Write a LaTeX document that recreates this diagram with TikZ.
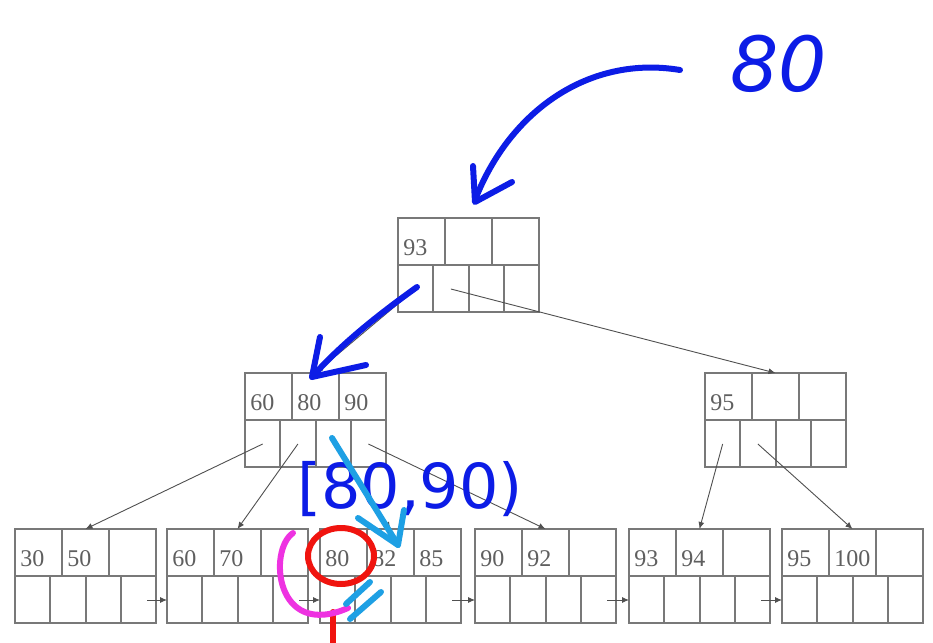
\documentclass[tikz,border=0pt]{standalone}
\usepackage{fontspec}
\setmainfont{Liberation Serif}
\newfontfamily\inkfont{DejaVu Sans}
\usetikzlibrary{arrows.meta}
\definecolor{boxgray}{RGB}{120,120,120}
\definecolor{keygray}{RGB}{95,95,95}
\definecolor{ptrgray}{RGB}{80,80,80}
\definecolor{inkblue}{RGB}{12,28,230}
\definecolor{inkcyan}{RGB}{30,160,228}
\definecolor{inkred}{RGB}{240,20,15}
\definecolor{inkpink}{RGB}{238,50,225}
\begin{document}
\begin{tikzpicture}[x=0.5pt,y=-0.5pt]
\tikzstyle{every node}+=[inner sep=0pt]
\tikzstyle{box}=[draw=boxgray,line width=0.85pt]
\tikzstyle{key}=[anchor=base west,text=keygray,font=\fontsize{12}{12}\selectfont]
\tikzstyle{ptr}=[draw=ptrgray,line width=0.45pt,-{Latex[length=3.5pt,width=3pt]}]
\tikzstyle{ink}=[line width=3pt,line cap=round,line join=round]
\useasboundingbox (0,0) rectangle (933,643);
\fill [white] (0,0) rectangle (933,643);
\foreach \n/\x/\y in {root/398/218,ina/245/373,inb/705/373,la/15/529,lb/167/529,lc/320/529,ld/475/529,le/629/529,lf/782/529}
{
  \draw [box] (\x,\y) rectangle (\x+141,\y+94);
  \draw [box] (\x,\y+47) -- (\x+141,\y+47);
  \draw [box] (\x+47,\y) -- (\x+47,\y+47);
  \draw [box] (\x+94,\y) -- (\x+94,\y+47);
  \foreach \d in {35,71,106} \draw [box] (\x+\d,\y+47) -- (\x+\d,\y+94);
  \coordinate (\n-top) at (\x+70.5,\y);
  \coordinate (\n-in) at (\x,\y+71);
  \coordinate (\n-out) at (\x+132,\y+71);
  \foreach \i in {1,...,4} \coordinate (\n-p\i) at (\x+35.25*\i-17.6,\y+71);
  \foreach \i in {1,2,3} \coordinate (\n-k\i) at (\x+47*\i-42,\y+37);
}
\foreach \n/\i/\v in {root/1/93,ina/1/60,ina/2/80,ina/3/90,inb/1/95,la/1/30,la/2/50,lb/1/60,lb/2/70,lc/1/80,lc/2/82,lc/3/85,ld/1/90,ld/2/92,le/1/93,le/2/94,lf/1/95,lf/2/100}
  \node [key] (\n-t\i) at (\n-k\i) {\v};
\draw [ptr] (root-p1) -- (ina-top);
\draw [ptr] (root-p2) -- (inb-top);
\draw [ptr] (ina-p1) -- (la-top);
\draw [ptr] (ina-p2) -- (lb-top);
\draw [ptr] (ina-p3) -- (lc-top);
\draw [ptr] (ina-p4) -- (ld-top);
\draw [ptr] (inb-p1) -- (le-top);
\draw [ptr] (inb-p2) -- (lf-top);
\draw [ptr] (la-out) -- (lb-in);
\draw [ptr] (lb-out) -- (lc-in);
\draw [ptr] (lc-out) -- (ld-in);
\draw [ptr] (ld-out) -- (le-in);
\draw [ptr] (le-out) -- (lf-in);
\node [text=inkblue,font=\inkfont\itshape\fontsize{38}{38}\selectfont] (query) at (779,64) {80};
\node [text=inkblue,font=\inkfont\fontsize{31}{31}\selectfont] (range) at (410,489) {[80,90)};
\draw [ink,inkblue] (680,70) .. controls (590,55) and (510,110) .. (475,200);
\draw [ink,inkblue] (473,166) -- (475,202) -- (512,182);
\draw [ink,inkblue] (417,287) .. controls (385,310) and (345,340) .. (312,377);
\draw [ink,inkblue] (320,337) -- (312,377) -- (366,365);
\draw [ink,inkcyan] (332,438) -- (398,545);
\draw [ink,inkcyan] (358,518) -- (398,545) -- (404,510);
\draw [ink,inkred] (341,556) ellipse [x radius=16.5pt,y radius=14pt];
\draw [ink,inkred] (333,612) -- (333,643);
\draw [ink,inkpink] (293,533) .. controls (268,550) and (275,640) .. (348,608);
\draw [ink,inkcyan] (370,582) -- (346,604);
\draw [ink,inkcyan] (381,592) -- (350,619);
\end{tikzpicture}
\end{document}
